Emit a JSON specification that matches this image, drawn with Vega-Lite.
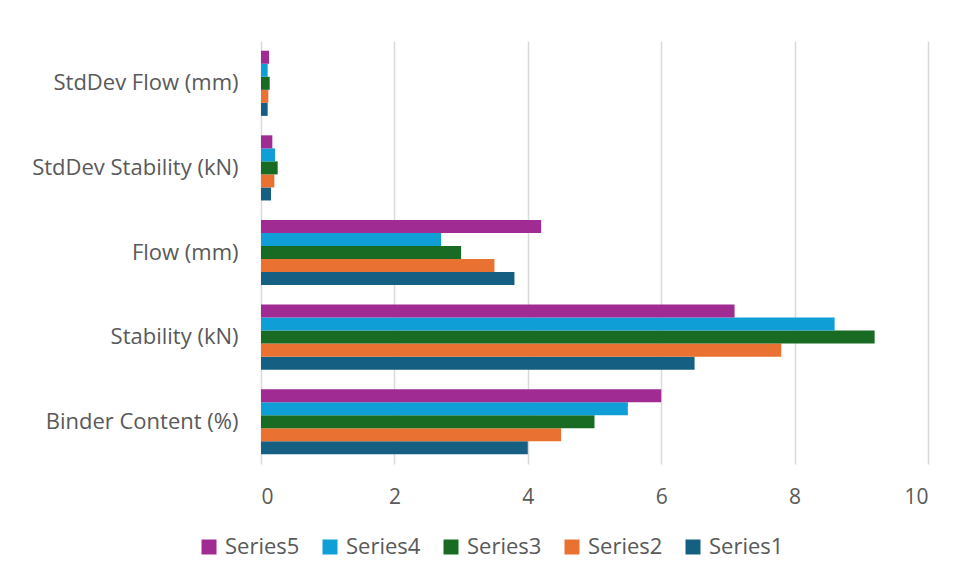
{
  "$schema": "https://vega.github.io/schema/vega-lite/v6.json",
  "width": 667,
  "height": 423,
  "autosize": "none",
  "padding": {"left": 261, "top": 41, "right": 30, "bottom": 115},
  "background": "white",
  "data": {
    "values": [
      {"cat": "Binder Content (%)", "series": "Series1", "value": 4.0},
      {"cat": "Binder Content (%)", "series": "Series2", "value": 4.5},
      {"cat": "Binder Content (%)", "series": "Series3", "value": 5.0},
      {"cat": "Binder Content (%)", "series": "Series4", "value": 5.5},
      {"cat": "Binder Content (%)", "series": "Series5", "value": 6.0},
      {"cat": "Stability (kN)", "series": "Series1", "value": 6.5},
      {"cat": "Stability (kN)", "series": "Series2", "value": 7.8},
      {"cat": "Stability (kN)", "series": "Series3", "value": 9.2},
      {"cat": "Stability (kN)", "series": "Series4", "value": 8.6},
      {"cat": "Stability (kN)", "series": "Series5", "value": 7.1},
      {"cat": "Flow (mm)", "series": "Series1", "value": 3.8},
      {"cat": "Flow (mm)", "series": "Series2", "value": 3.5},
      {"cat": "Flow (mm)", "series": "Series3", "value": 3.0},
      {"cat": "Flow (mm)", "series": "Series4", "value": 2.7},
      {"cat": "Flow (mm)", "series": "Series5", "value": 4.2},
      {"cat": "StdDev Stability (kN)", "series": "Series1", "value": 0.15},
      {"cat": "StdDev Stability (kN)", "series": "Series2", "value": 0.2},
      {"cat": "StdDev Stability (kN)", "series": "Series3", "value": 0.25},
      {"cat": "StdDev Stability (kN)", "series": "Series4", "value": 0.21},
      {"cat": "StdDev Stability (kN)", "series": "Series5", "value": 0.17},
      {"cat": "StdDev Flow (mm)", "series": "Series1", "value": 0.1},
      {"cat": "StdDev Flow (mm)", "series": "Series2", "value": 0.11},
      {"cat": "StdDev Flow (mm)", "series": "Series3", "value": 0.13},
      {"cat": "StdDev Flow (mm)", "series": "Series4", "value": 0.1},
      {"cat": "StdDev Flow (mm)", "series": "Series5", "value": 0.12}
    ]
  },
  "mark": {"type": "bar"},
  "encoding": {
    "y": {
      "field": "cat",
      "type": "nominal",
      "sort": ["StdDev Flow (mm)", "StdDev Stability (kN)", "Flow (mm)", "Stability (kN)", "Binder Content (%)"],
      "scale": {"paddingInner": 0.23, "paddingOuter": 0.115},
      "axis": {
        "title": null,
        "domain": false,
        "ticks": false,
        "labelPadding": 23,
        "labelFontSize": 22,
        "labelFont": "Open Sans",
        "labelColor": "#595959",
        "labelLimit": 300
      }
    },
    "yOffset": {
      "field": "series",
      "type": "nominal",
      "sort": "descending",
      "scale": {"paddingInner": 0, "paddingOuter": 0}
    },
    "x": {
      "field": "value",
      "type": "quantitative",
      "scale": {"domain": [0, 10], "nice": false},
      "axis": {
        "title": null,
        "values": [0, 2, 4, 6, 8, 10],
        "domain": false,
        "ticks": false,
        "grid": true,
        "gridColor": "#d9d9d9",
        "gridWidth": 1.5,
        "labelPadding": 22,
        "labelFontSize": 21,
        "labelFont": "Open Sans",
        "labelColor": "#595959"
      }
    },
    "color": {
      "field": "series",
      "type": "nominal",
      "scale": {
        "domain": ["Series5", "Series4", "Series3", "Series2", "Series1"],
        "range": ["#A02B93", "#0F9ED5", "#196B24", "#E97132", "#156082"]
      },
      "legend": {
        "title": null,
        "orient": "none",
        "legendX": -63,
        "legendY": 495,
        "direction": "horizontal",
        "columns": 5,
        "columnPadding": 19,
        "symbolType": "square",
        "symbolSize": 225,
        "symbolStrokeWidth": 0,
        "labelFontSize": 22,
        "labelFont": "Open Sans",
        "labelColor": "#595959",
        "labelOffset": 5
      }
    }
  },
  "config": {
    "view": {"stroke": null}
  }
}
